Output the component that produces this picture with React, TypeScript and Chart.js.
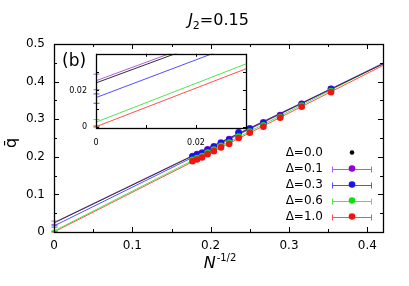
import React, { useEffect, useRef } from "react";
import { Chart, registerables } from "chart.js";

Chart.register(...registerables);

// ---------------- data ----------------
const seriesLabels = ["Δ=0.0", "Δ=0.1", "Δ=0.3", "Δ=0.6", "Δ=1.0"];
const pointColors = ["#000000", "#9400d3", "#1414f0", "#10e010", "#f01414"];
const lineColors = ["#303030", "#b45ae6", "#5050ff", "#50e650", "#ff5050"];

// x = N^{-1/2}
const xValues = [0.1768, 0.1826, 0.189, 0.1961, 0.2041, 0.2132, 0.2236, 0.2357, 0.25, 0.2673, 0.2887, 0.3162, 0.3536];
const qDelta00 = [0.201, 0.206, 0.21, 0.219, 0.227, 0.237, 0.246, 0.263, 0.275, 0.291, 0.31, 0.34, 0.38];
const qDelta01 = [0.202, 0.207, 0.211, 0.22, 0.228, 0.238, 0.247, 0.265, 0.276, 0.292, 0.311, 0.341, 0.381];
const qDelta03 = [0.2, 0.205, 0.209, 0.218, 0.226, 0.236, 0.245, 0.264, 0.274, 0.29, 0.309, 0.34, 0.38];
const qDelta06 = [0.192, 0.197, 0.202, 0.211, 0.219, 0.229, 0.238, 0.254, 0.267, 0.284, 0.306, 0.336, 0.375];
const qDelta10 = [0.188, 0.193, 0.198, 0.207, 0.215, 0.225, 0.234, 0.25, 0.264, 0.28, 0.304, 0.333, 0.372];
const seriesValues = [qDelta00, qDelta01, qDelta03, qDelta06, qDelta10];

// linear fits: value at x=0 and at x=fitEndX
const fitEndX = 0.42;
const fitIntercepts = [0.0241, 0.0253, 0.0161, 0.0027, 0.0002];
const fitEnds = [0.447, 0.448, 0.449, 0.448, 0.443];
// extrapolation error bars at x = 0
const errLow = [null, 0.0204, 0.013, 0.0005, 0.0];
const errHigh = [null, 0.0289, 0.0181, 0.0041, 0.0006];

// tick labels
const mainXLabels = ["0", "0.1", "0.2", "0.3", "0.4"];
const mainYLabels = ["0", "0.1", "0.2", "0.3", "0.4", "0.5"];
const insetLabels = ["0", "0.02"];

const FONT = "'DejaVu Sans', sans-serif";

function buildDatasets(withPoints: boolean) {
  const ds: any[] = [];
  seriesValues.forEach((vals, i) => {
    ds.push({
      label: seriesLabels[i] + " fit",
      data: [
        { x: 0, y: fitIntercepts[i] },
        { x: fitEndX, y: fitEnds[i] },
      ],
      showLine: true,
      borderColor: lineColors[i],
      borderWidth: 1,
      pointRadius: 0,
      order: 20 + i,
    });
    if (withPoints) {
      ds.push({
        label: seriesLabels[i],
        data: xValues.map((x, j) => ({ x, y: vals[j] })),
        showLine: false,
        pointRadius: i === 0 ? 2.5 : 3.3,
        pointBackgroundColor: pointColors[i],
        pointBorderWidth: 0,
        order: 4 - i,
      });
    }
  });
  return ds;
}

function drawFrameTicks(chart: any, major: number, minor: number) {
  const { ctx, chartArea: a, scales } = chart;
  ctx.save();
  ctx.strokeStyle = "#000";
  ctx.lineWidth = 1;
  ctx.beginPath();
  scales.x.ticks.forEach((t: any) => {
    const p = Math.round(scales.x.getPixelForValue(t.value)) + 0.5;
    const len = t.label === "" ? minor : major;
    ctx.moveTo(p, a.bottom);
    ctx.lineTo(p, a.bottom - len);
    ctx.moveTo(p, a.top);
    ctx.lineTo(p, a.top + len);
  });
  scales.y.ticks.forEach((t: any) => {
    const p = Math.round(scales.y.getPixelForValue(t.value)) + 0.5;
    const len = t.label === "" ? minor : major;
    ctx.moveTo(a.left, p);
    ctx.lineTo(a.left + len, p);
    ctx.moveTo(a.right, p);
    ctx.lineTo(a.right - len, p);
  });
  ctx.stroke();
  ctx.lineWidth = 1.3;
  ctx.strokeRect(Math.round(a.left) + 0.5, Math.round(a.top) + 0.5, Math.round(a.right - a.left), Math.round(a.bottom - a.top));
  ctx.restore();
}

function drawErrorBars(chart: any) {
  const { ctx, scales } = chart;
  ctx.save();
  ctx.lineWidth = 1;
  for (let i = 0; i < errLow.length; i++) {
    const lo = errLow[i];
    const hi = errHigh[i];
    if (lo === null || hi === null) continue;
    const px = Math.round(scales.x.getPixelForValue(0)) + 0.5;
    const y1 = scales.y.getPixelForValue(lo);
    const y2 = scales.y.getPixelForValue(hi);
    ctx.strokeStyle = lineColors[i];
    ctx.beginPath();
    ctx.moveTo(px, y1);
    ctx.lineTo(px, y2);
    ctx.moveTo(px - 3, y1);
    ctx.lineTo(px + 3, y1);
    ctx.moveTo(px - 3, y2);
    ctx.lineTo(px + 3, y2);
    ctx.stroke();
  }
  ctx.restore();
}

const mainPlugin = {
  id: "mainDecor",
  beforeDraw(chart: any) {
    const { ctx, width, height } = chart;
    ctx.save();
    ctx.fillStyle = "#fff";
    ctx.fillRect(0, 0, width, height);
    ctx.restore();
  },
  afterDatasetsDraw(chart: any) {
    drawErrorBars(chart);
  },
  afterDraw(chart: any) {
    const { ctx, chartArea: a } = chart;
    drawFrameTicks(chart, 5, 3);
    ctx.save();
    ctx.fillStyle = "#000";
    ctx.textBaseline = "alphabetic";
    // title J_2=0.15
    const cx = (a.left + a.right) / 2;
    ctx.font = `italic 16px ${FONT}`;
    const wJ = ctx.measureText("J").width;
    ctx.font = `11px ${FONT}`;
    const w2 = ctx.measureText("2").width;
    ctx.font = `16px ${FONT}`;
    const wR = ctx.measureText("=0.15").width;
    let x0 = cx - (wJ + w2 + wR) / 2;
    ctx.textAlign = "left";
    ctx.font = `italic 16px ${FONT}`;
    ctx.fillText("J", x0, 25);
    ctx.font = `11px ${FONT}`;
    ctx.fillText("2", x0 + wJ, 29);
    ctx.font = `16px ${FONT}`;
    ctx.fillText("=0.15", x0 + wJ + w2, 25);

    // x title N^{-1/2}
    ctx.font = `italic 16px ${FONT}`;
    const wN = ctx.measureText("N").width;
    ctx.font = `10px ${FONT}`;
    const wS = ctx.measureText("-1/2").width;
    x0 = cx + 1 - (wN + wS) / 2;
    ctx.font = `italic 16px ${FONT}`;
    ctx.fillText("N", x0, 268);
    ctx.font = `10px ${FONT}`;
    ctx.fillText("-1/2", x0 + wN + 1, 261);

    // y title q-bar (rotated)
    ctx.save();
    ctx.translate(12, 143);
    ctx.rotate(-Math.PI / 2);
    ctx.font = `16px ${FONT}`;
    const wq = ctx.measureText("q").width;
    ctx.textAlign = "left";
    ctx.textBaseline = "middle";
    ctx.fillText("q\u0304", -wq / 2, 0);
    ctx.restore();

    // panel label
    ctx.textAlign = "left";
    ctx.textBaseline = "alphabetic";
    ctx.font = `17px ${FONT}`;
    ctx.fillText("(b)", a.left + 8, a.top + 22);

    // legend
    ctx.font = `12px ${FONT}`;
    for (let i = 0; i < seriesLabels.length; i++) {
      const y = a.bottom - 15.5 - (seriesLabels.length - 1 - i) * 16;
      ctx.fillStyle = "#000";
      ctx.textAlign = "right";
      ctx.textBaseline = "middle";
      ctx.fillText(seriesLabels[i], a.right - 60, y);
      const dotX = a.right - 31;
      if (i > 0) {
        const xl = a.right - 51;
        const xr = a.right - 11;
        const yy = Math.round(y) + 0.5;
        ctx.strokeStyle = lineColors[i];
        ctx.lineWidth = 1;
        ctx.beginPath();
        ctx.moveTo(xl, yy);
        ctx.lineTo(xr, yy);
        ctx.moveTo(xl + 0.5, yy - 3);
        ctx.lineTo(xl + 0.5, yy + 3);
        ctx.moveTo(xr - 0.5, yy - 3);
        ctx.lineTo(xr - 0.5, yy + 3);
        ctx.stroke();
      }
      ctx.fillStyle = pointColors[i];
      ctx.beginPath();
      ctx.arc(dotX, y, i === 0 ? 2.3 : 3.3, 0, Math.PI * 2);
      ctx.fill();
    }
    ctx.restore();
  },
};

const insetPlugin = {
  id: "insetDecor",
  beforeDatasetsDraw(chart: any) {
    const { ctx, chartArea: a } = chart;
    ctx.save();
    ctx.fillStyle = "#fff";
    ctx.fillRect(a.left, a.top, a.right - a.left, a.bottom - a.top);
    ctx.restore();
  },
  afterDatasetsDraw(chart: any) {
    drawErrorBars(chart);
  },
  afterDraw(chart: any) {
    drawFrameTicks(chart, 3, 3);
  },
};

function pickLabel(v: number, labels: string[]) {
  const hit = labels.find((l) => Math.abs(parseFloat(l) - v) < 1e-6);
  return hit === undefined ? "" : hit;
}

export default function App() {
  const mainRef = useRef<HTMLCanvasElement>(null);
  const insetRef = useRef<HTMLCanvasElement>(null);

  useEffect(() => {
    document.body.style.margin = "0";
    const main = new Chart(mainRef.current as HTMLCanvasElement, {
      type: "scatter",
      data: { datasets: buildDatasets(true) },
      plugins: [mainPlugin],
      options: {
        animation: false,
        responsive: false,
        devicePixelRatio: 1,
        layout: { padding: { left: 0, top: 44, right: 26, bottom: 0 } },
        plugins: { legend: { display: false }, tooltip: { enabled: false }, title: { display: false } },
        scales: {
          x: {
            type: "linear",
            min: 0,
            max: 0.42,
            grid: { display: false, drawTicks: false },
            border: { display: false },
            ticks: {
              stepSize: 0.05,
              autoSkip: false,
              includeBounds: false,
              maxRotation: 0,
              padding: 7,
              color: "#000",
              font: { family: FONT, size: 12 },
              callback: (v: any) => pickLabel(Number(v), mainXLabels),
            },
            afterFit: (s: any) => {
              s.height = 54;
            },
          },
          y: {
            type: "linear",
            min: 0,
            max: 0.5,
            grid: { display: false, drawTicks: false },
            border: { display: false },
            ticks: {
              stepSize: 0.05,
              autoSkip: false,
              includeBounds: false,
              padding: 9,
              color: "#000",
              font: { family: FONT, size: 12 },
              callback: (v: any) => pickLabel(Number(v), mainYLabels),
            },
            afterFit: (s: any) => {
              s.width = 54;
            },
          },
        },
      } as any,
    });

    const inset = new Chart(insetRef.current as HTMLCanvasElement, {
      type: "scatter",
      data: { datasets: buildDatasets(false) },
      plugins: [insetPlugin],
      options: {
        animation: false,
        responsive: false,
        devicePixelRatio: 1,
        layout: { padding: { left: 0, top: 10, right: 10, bottom: 0 } },
        plugins: { legend: { display: false }, tooltip: { enabled: false }, title: { display: false } },
        scales: {
          x: {
            type: "linear",
            min: 0,
            max: 0.03,
            grid: { display: false, drawTicks: false },
            border: { display: false },
            ticks: {
              stepSize: 0.01,
              autoSkip: false,
              includeBounds: false,
              maxRotation: 0,
              padding: 10,
              color: "#000",
              font: { family: FONT, size: 8 },
              callback: (v: any) => pickLabel(Number(v), insetLabels),
            },
            afterFit: (s: any) => {
              s.height = 27;
            },
          },
          y: {
            type: "linear",
            min: -0.0005,
            max: 0.04,
            grid: { display: false, drawTicks: false },
            border: { display: false },
            ticks: {
              stepSize: 0.01,
              autoSkip: false,
              includeBounds: false,
              padding: 9,
              color: "#000",
              font: { family: FONT, size: 8 },
              callback: (v: any) => pickLabel(Number(v), insetLabels),
            },
            afterFit: (s: any) => {
              s.width = 40;
            },
          },
        },
      } as any,
    });

    return () => {
      main.destroy();
      inset.destroy();
    };
  }, []);

  return (
    <div style={{ position: "relative", width: 409, height: 286 }}>
      <canvas ref={mainRef} width={409} height={286} style={{ position: "absolute", left: 0, top: 0 }} />
      <canvas ref={insetRef} width={200} height={115} style={{ position: "absolute", left: 56, top: 40 }} />
    </div>
  );
}
